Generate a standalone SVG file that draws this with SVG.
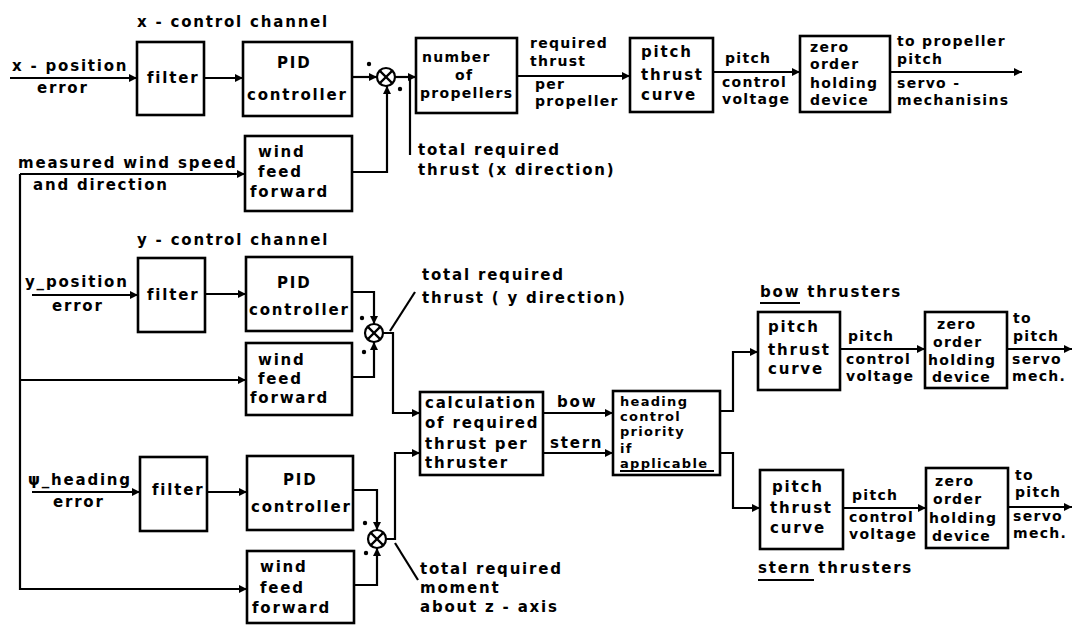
<svg xmlns="http://www.w3.org/2000/svg" width="1074" height="625" viewBox="0 0 1074 625" xml:space="preserve">
<defs>
<marker id="arr" viewBox="0 0 10 10" refX="10" refY="5" markerWidth="9" markerHeight="8" markerUnits="userSpaceOnUse" orient="auto"><path d="M0,0 L10,5 L0,10 z" fill="#000"/></marker>
<style>
.b{fill:none;stroke:#000;stroke-width:2.6}
.c{fill:none;stroke:#000;stroke-width:2.2}
.a{marker-end:url(#arr)}
.t{font-family:"DejaVu Sans",sans-serif;font-weight:bold;font-size:15px;letter-spacing:1.8px;fill:#000}
.s{font-size:14px;letter-spacing:1.3px}
.h{font-size:13px;letter-spacing:1.3px}
.u{stroke:#000;stroke-width:2}
.dot{fill:#000}
</style>
</defs>
<rect width="1074" height="625" fill="#fff"/>

<g id="connectors">
<path class="c a" d="M10,78 H137"/>
<path class="c a" d="M204,78 H243"/>
<path class="c a" d="M352,77 H377"/>
<path class="c a" d="M395,77 H416"/>
<path class="c a" d="M352,172 H387 V86"/>
<path class="c" d="M410,77 V155"/>
<path class="c a" d="M517,76 H630"/>
<path class="c a" d="M713,72 H800"/>
<path class="c a" d="M890,72 H1022"/>
<path class="c a" d="M20,174 H245"/>
<path class="c a" d="M20,174 V589 H247"/>
<path class="c a" d="M20,380 H246"/>
<path class="c a" d="M32,295 H138"/>
<path class="c a" d="M205,294 H246"/>
<path class="c a" d="M352,292 H374 V324"/>
<path class="c a" d="M352,377 H374 V342"/>
<path class="c a" d="M383,333 H393 V413 H420"/>
<path class="c" d="M390,331 L415,292"/>
<path class="c a" d="M32,492 H140"/>
<path class="c a" d="M207,492 H247"/>
<path class="c a" d="M353,490 H377 V530"/>
<path class="c a" d="M354,585 H377 V548"/>
<path class="c a" d="M386,539 H395 V453 H420"/>
<path class="c" d="M395,543 L418,580"/>
<path class="c a" d="M543,413 H613"/>
<path class="c a" d="M543,453 H613"/>
<path class="c a" d="M720,411 H733 V352 H758"/>
<path class="c a" d="M720,453 H733 V508 H760"/>
<path class="c a" d="M840,349 H925"/>
<path class="c a" d="M1007,349 H1072"/>
<path class="c a" d="M843,508 H926"/>
<path class="c a" d="M1008,507 H1072"/>
</g>

<g id="labels">
<text class="t" x="137" y="27">x - control  channel</text>
<text class="t" x="12" y="71">x - position</text>
<text class="t" x="37" y="93">error</text>
<text class="t" x="18" y="168">measured  wind  speed</text>
<text class="t" x="33" y="190">and  direction</text>
<text class="t" x="418" y="155">total  required</text>
<text class="t" x="418" y="175">thrust  (x direction)</text>
<text class="t s" x="530" y="48">required</text>
<text class="t s" x="530" y="66">thrust</text>
<text class="t s" x="535" y="89">per</text>
<text class="t s" x="535" y="106">propeller</text>
<text class="t s" x="725" y="63">pitch</text>
<text class="t s" x="722" y="87">control</text>
<text class="t s" x="722" y="104">voltage</text>
<text class="t s" x="897" y="46">to  propeller</text>
<text class="t s" x="897" y="64">pitch</text>
<text class="t s" x="897" y="88">servo -</text>
<text class="t s" x="897" y="105">mechanisins</text>
<text class="t" x="137" y="245">y - control  channel</text>
<text class="t" x="25" y="287">y_position</text>
<text class="t" x="52" y="311">error</text>
<text class="t" x="422" y="280">total  required</text>
<text class="t" x="422" y="303">thrust  ( y direction)</text>
<text class="t" x="28" y="485">ψ_heading</text>
<text class="t" x="53" y="507">error</text>
<text class="t" x="420" y="574">total  required</text>
<text class="t" x="420" y="593">moment</text>
<text class="t" x="420" y="612">about  z - axis</text>
<text class="t" x="557" y="407">bow</text>
<text class="t" x="550" y="448">stern</text>
<text class="t" x="760" y="297">bow  thrusters</text>
<line class="u" x1="760" y1="303" x2="800" y2="303"/>
<text class="t s" x="848" y="341">pitch</text>
<text class="t s" x="846" y="364">control</text>
<text class="t s" x="846" y="381">voltage</text>
<text class="t s" x="1013" y="323">to</text>
<text class="t s" x="1013" y="341">pitch</text>
<text class="t s" x="1012" y="364">servo</text>
<text class="t s" x="1012" y="381">mech.</text>
<text class="t s" x="852" y="500">pitch</text>
<text class="t s" x="849" y="522">control</text>
<text class="t s" x="849" y="539">voltage</text>
<text class="t s" x="1015" y="480">to</text>
<text class="t s" x="1015" y="497">pitch</text>
<text class="t s" x="1013" y="521">servo</text>
<text class="t s" x="1013" y="538">mech.</text>
<text class="t" x="758" y="573">stern  thrusters</text>
<line class="u" x1="758" y1="580" x2="814" y2="580"/>
</g>

<g id="x_filter"><rect class="b" x="137" y="42" width="67" height="73"/><text class="t" x="147" y="83">filter</text></g>
<g id="x_pid"><rect class="b" x="243" y="42" width="109" height="74"/><text class="t" x="277" y="68">PID</text><text class="t" x="247" y="100">controller</text></g>
<g id="x_sum"><circle class="c" cx="386" cy="77" r="9"/><path class="c" d="M379.6,70.6 L392.4,83.4 M392.4,70.6 L379.6,83.4"/><circle class="dot" cx="369" cy="64" r="2.2"/><circle class="dot" cx="400" cy="89" r="2.2"/></g>
<g id="x_wind"><rect class="b" x="245" y="136" width="107" height="75"/><text class="t" x="258" y="157">wind</text><text class="t" x="258" y="177">feed</text><text class="t" x="250" y="197">forward</text></g>
<g id="x_numprop"><rect class="b" x="416" y="38" width="101" height="75"/><text class="t s" x="422" y="62">number</text><text class="t s" x="455" y="80">of</text><text class="t s" x="420" y="98">propellers</text></g>
<g id="x_ptc"><rect class="b" x="630" y="38" width="83" height="74"/><text class="t" x="641" y="57">pitch</text><text class="t" x="641" y="80">thrust</text><text class="t" x="641" y="100">curve</text></g>
<g id="x_zoh"><rect class="b" x="800" y="36" width="90" height="76"/><text class="t s" x="810" y="52">zero</text><text class="t s" x="810" y="69">order</text><text class="t s" x="810" y="88">holding</text><text class="t s" x="810" y="105">device</text></g>

<g id="y_filter"><rect class="b" x="138" y="258" width="67" height="74"/><text class="t" x="147" y="300">filter</text></g>
<g id="y_pid"><rect class="b" x="246" y="257" width="106" height="74"/><text class="t" x="277" y="288">PID</text><text class="t" x="249" y="315">controller</text></g>
<g id="y_wind"><rect class="b" x="246" y="343" width="106" height="72"/><text class="t" x="258" y="365">wind</text><text class="t" x="258" y="384">feed</text><text class="t" x="250" y="403">forward</text></g>
<g id="y_sum"><circle class="c" cx="374" cy="333" r="9"/><path class="c" d="M367.6,326.6 L380.4,339.4 M380.4,326.6 L367.6,339.4"/><circle class="dot" cx="362" cy="318" r="2.2"/><circle class="dot" cx="364" cy="352" r="2.2"/></g>

<g id="psi_filter"><rect class="b" x="140" y="457" width="67" height="74"/><text class="t" x="152" y="495">filter</text></g>
<g id="psi_pid"><rect class="b" x="247" y="456" width="106" height="74"/><text class="t" x="283" y="485">PID</text><text class="t" x="251" y="512">controller</text></g>
<g id="psi_wind"><rect class="b" x="247" y="551" width="107" height="72"/><text class="t" x="260" y="572">wind</text><text class="t" x="260" y="593">feed</text><text class="t" x="252" y="613">forward</text></g>
<g id="psi_sum"><circle class="c" cx="377" cy="539" r="9"/><path class="c" d="M370.6,532.6 L383.4,545.4 M383.4,532.6 L370.6,545.4"/><circle class="dot" cx="365" cy="523" r="2.2"/><circle class="dot" cx="366" cy="553" r="2.2"/></g>

<g id="calc"><rect class="b" x="420" y="392" width="123" height="83"/><text class="t" x="425" y="408">calculation</text><text class="t" x="425" y="428">of required</text><text class="t" x="425" y="449">thrust per</text><text class="t" x="425" y="468">thruster</text></g>
<g id="heading"><rect class="b" x="613" y="391" width="107" height="84"/><text class="t h" x="620" y="406">heading</text><text class="t h" x="620" y="421">control</text><text class="t h" x="620" y="436">priority</text><text class="t h" x="620" y="453">if</text><text class="t h" x="620" y="468">applicable</text><line class="u" x1="620" y1="471" x2="714" y2="471"/></g>

<g id="bow_ptc"><rect class="b" x="758" y="312" width="82" height="78"/><text class="t" x="768" y="332">pitch</text><text class="t" x="768" y="355">thrust</text><text class="t" x="768" y="374">curve</text></g>
<g id="bow_zoh"><rect class="b" x="925" y="312" width="82" height="76"/><text class="t s" x="937" y="329">zero</text><text class="t s" x="933" y="347">order</text><text class="t s" x="928" y="365">holding</text><text class="t s" x="932" y="382">device</text></g>
<g id="stern_ptc"><rect class="b" x="760" y="470" width="83" height="79"/><text class="t" x="772" y="492">pitch</text><text class="t" x="770" y="513">thrust</text><text class="t" x="770" y="533">curve</text></g>
<g id="stern_zoh"><rect class="b" x="926" y="468" width="82" height="80"/><text class="t s" x="935" y="486">zero</text><text class="t s" x="933" y="504">order</text><text class="t s" x="929" y="523">holding</text><text class="t s" x="932" y="541">device</text></g>
</svg>
